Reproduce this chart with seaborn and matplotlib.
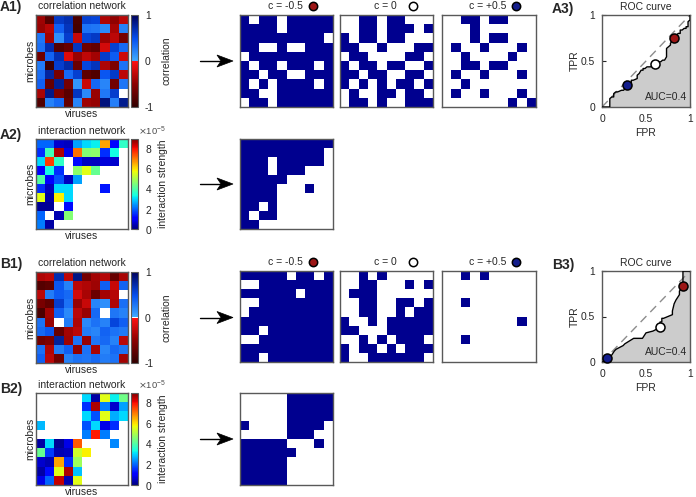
import numpy as np
import matplotlib
matplotlib.use("Agg")
import matplotlib.pyplot as plt
import seaborn as sns
from matplotlib.colors import LinearSegmentedColormap, ListedColormap
from matplotlib.ticker import ScalarFormatter
from matplotlib.patches import Polygon
from matplotlib.lines import Line2D

sns.set_style("white")
plt.rcParams["font.family"] = ["Liberation Sans", "DejaVu Sans"]
plt.rcParams["axes.unicode_minus"] = False

# ---------------- data ----------------
thresholds = [-0.5, 0.0, 0.5]
threshold_labels = ["c = -0.5", "c = 0", "c = +0.5"]
threshold_colors = ["#9c1616", "#ffffff", "#141e8c"]
auc_labels = ["AUC=0.4", "AUC=0.4"]
inter_scale = 1e-5
inter_vmax = 8.85

corr_A = [
    [-0.42, -0.78, 0.62, 0.70, -0.85, 0.58, 0.55, -0.35, -0.48, -0.30],
    [-0.45, -0.32, 0.40, 0.66, -0.88, 0.30, 0.28, 0.18, -0.38, 0.22],
    [0.28, -0.40, 0.15, 0.60, -0.25, 0.57, 0.63, -0.44, -0.30, -0.62],
    [0.32, 0.72, -0.80, -0.70, 0.64, -0.65, -0.72, -0.20, 0.58, 0.35],
    [-0.66, 0.38, 0.69, -0.15, -0.45, -0.28, -0.40, 0.61, 0.42, -0.22],
    [0.25, -0.92, 0.60, 0.73, -0.68, 0.55, 0.66, -0.36, -0.58, 0.30],
    [0.33, 0.76, -0.60, 0.35, 0.59, -0.75, -0.82, 0.45, 0.62, -0.30],
    [0.40, -0.70, 0.80, -0.62, 0.12, -0.25, 0.36, 0.20, -0.64, 0.28],
    [-0.38, 0.84, -0.58, -0.77, 0.65, 0.18, -0.45, 0.27, 0.60, 0.00],
    [-0.82, 0.22, 0.35, -0.71, 0.20, -0.42, -0.46, 0.88, 0.24, 0.82],
]
corr_B = [
    [-0.35, -0.30, 0.70, -0.28, 0.85, -0.62, -0.40, -0.33, -0.70, -0.38],
    [-0.80, -0.75, 0.45, 0.22, -0.30, -0.35, -0.42, 0.40, -0.25, 0.38],
    [-0.30, 0.25, 0.42, 0.35, -0.20, -0.38, -0.68, -0.40, -0.32, 0.00],
    [-0.60, -0.72, 0.60, 0.30, -0.45, -0.25, 0.20, 0.15, -0.35, 0.32],
    [-0.85, -0.40, 0.40, 0.18, -0.30, -0.45, 0.35, 0.00, 0.28, 0.22],
    [0.30, -0.45, 0.00, 0.25, -0.35, 0.18, 0.30, 0.22, 0.55, 0.40],
    [0.35, 0.45, -0.70, -0.40, -0.30, 0.25, 0.20, 0.38, 0.30, 0.26],
    [-0.65, -0.58, 0.78, -0.42, 0.30, -0.45, 0.28, 0.35, 0.22, -0.30],
    [0.32, -0.35, 0.25, 0.40, -0.48, 0.30, -0.38, 0.20, 0.35, 0.28],
    [0.40, -0.30, -0.65, 0.22, 0.30, 0.28, 0.35, 0.25, 0.30, -0.40],
]
# interaction strengths in units of 1e-5 (0 = no interaction)
inter_A = [
    [2.0, 2.0, 0.6, 0.5, 2.5, 3.0, 3.2, 6.5, 1.0, 3.6],
    [1.5, 3.8, 8.5, 0.8, 7.0, 4.5, 4.6, 1.5, 3.3, 0.0],
    [3.0, 7.5, 3.6, 0.0, 1.2, 0.5, 0.5, 0.7, 0.6, 0.0],
    [1.0, 3.3, 1.5, 0.0, 4.6, 5.5, 4.2, 0.0, 0.0, 0.0],
    [4.0, 1.0, 1.8, 0.5, 2.5, 0.0, 0.0, 0.0, 0.0, 0.0],
    [1.5, 0.5, 3.0, 3.0, 0.0, 0.0, 0.0, 1.3, 0.0, 0.0],
    [5.5, 0.3, 5.8, 3.0, 0.0, 0.0, 0.0, 0.0, 0.0, 0.0],
    [0.2, 0.2, 0.0, 1.2, 0.0, 0.0, 0.0, 0.0, 0.0, 0.0],
    [2.0, 0.0, 0.4, 4.5, 0.0, 0.0, 0.0, 0.0, 0.0, 0.0],
    [2.2, 0.3, 0.0, 0.0, 0.0, 0.0, 0.0, 0.0, 0.0, 0.0],
]
inter_B = [
    [0.0, 0.0, 0.0, 0.0, 0.0, 3.0, 0.3, 5.5, 3.2, 4.3],
    [0.0, 0.0, 0.0, 0.0, 0.0, 1.5, 8.5, 2.2, 0.6, 2.5],
    [0.0, 0.0, 0.0, 0.0, 0.0, 3.0, 1.8, 5.5, 2.6, 3.0],
    [2.7, 0.0, 0.0, 0.0, 0.0, 1.8, 3.0, 0.8, 1.5, 0.0],
    [0.0, 0.0, 0.0, 0.0, 0.0, 2.2, 7.8, 2.2, 0.0, 0.0],
    [0.3, 3.0, 0.2, 0.8, 7.2, 0.0, 0.0, 0.0, 2.3, 0.0],
    [4.2, 1.6, 0.4, 0.5, 5.3, 5.8, 0.0, 0.0, 0.0, 0.0],
    [0.6, 0.4, 6.5, 1.5, 4.8, 0.0, 0.0, 0.0, 0.0, 0.0],
    [0.3, 1.2, 5.5, 8.5, 2.8, 0.0, 0.0, 0.0, 0.0, 0.0],
    [0.8, 2.0, 8.3, 0.4, 5.5, 0.0, 0.0, 0.0, 0.0, 0.0],
]

# ---------------- styling ----------------
W, H = 696, 497
FS = 7.5
TICK_FS = 7.4
FRAME = "0.35"
corr_cmap = LinearSegmentedColormap.from_list("corr", [
    (0.0, "#300000"), (0.25, "#8c0000"), (0.496, "#ff1010"),
    (0.497, "#ffffff"), (0.503, "#ffffff"),
    (0.504, "#40aaff"), (0.74, "#0650f0"), (1.0, "#00005a")], N=1024)
bin_cmap = ListedColormap(["#ffffff", "#00008f"])

fig = plt.figure(figsize=(W / 100, H / 100), dpi=100)


def add_ax(box):
    x0, y0, x1, y1 = box
    return fig.add_axes([x0 / W, 1 - y1 / H, (x1 - x0) / W, (y1 - y0) / H])


def ftext(x, y, s, **kw):
    kw.setdefault("ha", "center")
    kw.setdefault("va", "center")
    kw.setdefault("fontsize", FS)
    fig.text(x / W, 1 - y / H, s, **kw)


def frame(ax):
    for sp in ax.spines.values():
        sp.set_visible(True)
        sp.set_color(FRAME)
        sp.set_linewidth(1.0)


def arrow(y):
    x0, x1 = 200, 233
    fig.add_artist(Line2D([x0 / W, (x1 - 8) / W], [1 - y / H, 1 - y / H],
                          transform=fig.transFigure, color="black", lw=1.0))
    pts = [(x1, y), (x1 - 16, y - 6), (x1 - 12, y), (x1 - 16, y + 6)]
    fig.add_artist(Polygon([(px / W, 1 - py / H) for px, py in pts], closed=True,
                           transform=fig.transFigure, facecolor="black",
                           edgecolor="black", lw=0.5))


def roc_curve(scores, labels):
    order = np.argsort(-scores, kind="mergesort")
    s, l = scores[order], labels[order]
    tp = np.cumsum(l)
    fp = np.cumsum(~l)
    idx = np.r_[np.where(np.diff(s) != 0)[0], len(s) - 1]
    tpr = np.r_[0.0, tp[idx] / l.sum()]
    fpr = np.r_[0.0, fp[idx] / (~l).sum()]
    return fpr, tpr


layouts = [
    dict(tag="A", corr=(36, 15, 128, 107), ccb=(131, 15, 138, 107),
         inter=(36, 139, 128, 229), icb=(131, 139, 138, 229),
         bins=[(240, 15, 333, 107), (340, 15, 433, 107), (442, 15, 536, 107)],
         ibin=(240, 139, 333, 229), roc=(602, 15, 690, 107),
         corr_data=corr_A, inter_data=inter_A, auc=auc_labels[0]),
    dict(tag="B", corr=(36, 272, 128, 363), ccb=(131, 272, 138, 363),
         inter=(36, 393, 128, 485), icb=(131, 393, 138, 485),
         bins=[(240, 271, 333, 362), (340, 271, 433, 362), (442, 271, 536, 362)],
         ibin=(240, 393, 333, 485), roc=(602, 271, 690, 362),
         corr_data=corr_B, inter_data=inter_B, auc=auc_labels[1]),
]

for L in layouts:
    corr = np.array(L["corr_data"], dtype=float)
    inter = np.array(L["inter_data"], dtype=float)
    tag = L["tag"]

    # ---- correlation network heatmap ----
    ax = add_ax(L["corr"])
    cax = add_ax(L["ccb"])
    sns.heatmap(corr, ax=ax, cmap=corr_cmap, vmin=-1, vmax=1, cbar_ax=cax,
                xticklabels=False, yticklabels=False)
    frame(ax)
    cb = ax.collections[0].colorbar
    cb.set_ticks([-1, 0, 1])
    cb.set_ticklabels(["-1", "0", "1"])
    cb.outline.set_linewidth(0.8)
    cb.outline.set_edgecolor(FRAME)
    cax.tick_params(labelsize=TICK_FS, length=0, pad=5, colors="0.15")
    x0, y0, x1, y1 = L["corr"]
    ftext((x0 + x1) / 2, y0 - 9, "correlation network")
    ftext(30, (y0 + y1) / 2, "microbes", rotation=90)
    ftext((x0 + x1) / 2, y1 + 7, "viruses")
    ftext(166, (y0 + y1) / 2, "correlation", rotation=90)
    ftext(0, y0 - 8, tag + "1)", ha="left", fontsize=10, fontweight="bold")

    # ---- interaction network heatmap ----
    ax = add_ax(L["inter"])
    cax = add_ax(L["icb"])
    shown = np.where(inter > 0, inter * inter_scale, np.nan)
    sns.heatmap(shown, ax=ax, cmap="jet", vmin=0, vmax=inter_vmax * inter_scale,
                cbar_ax=cax, xticklabels=False, yticklabels=False)
    frame(ax)
    cb = ax.collections[0].colorbar
    cb.set_ticks([t * inter_scale for t in [0, 2, 4, 6, 8]])
    fmt = ScalarFormatter(useMathText=True)
    fmt.set_powerlimits((0, 0))
    cb.formatter = fmt
    cb.update_ticks()
    cb.outline.set_linewidth(0.8)
    cb.outline.set_edgecolor(FRAME)
    cax.tick_params(labelsize=TICK_FS, length=2, direction="in", pad=5, colors="0.15")
    cax.yaxis.set_offset_position("right")
    off = cax.yaxis.get_offset_text()
    off.set_ha("left")
    off.set_x(1.0)
    off.set_fontsize(6.8)
    off.set_color("0.3")
    x0, y0, x1, y1 = L["inter"]
    ftext((x0 + x1) / 2, y0 - 7.5, "interaction network")
    ftext(30, (y0 + y1) / 2, "microbes", rotation=90)
    ftext((x0 + x1) / 2, y1 + 7, "viruses")
    ftext(163, (y0 + y1) / 2, "interaction strength", rotation=90)
    ftext(0, y0 - 4, tag + "2)", ha="left", fontsize=10, fontweight="bold")

    # ---- thresholded correlation networks ----
    for box, c, lab, col in zip(L["bins"], thresholds, threshold_labels, threshold_colors):
        ax = add_ax(box)
        sns.heatmap((corr > c).astype(int), ax=ax, cmap=bin_cmap, vmin=0, vmax=1,
                    cbar=False, xticklabels=False, yticklabels=False)
        frame(ax)
        ax.text(0.49, 1.1, lab, transform=ax.transAxes, ha="center", va="center", fontsize=FS)
        ax.plot([0.79], [1.1], "o", transform=ax.transAxes, clip_on=False,
                mfc=col, mec="black", ms=6, mew=1.1)
    arrow((L["corr"][1] + L["corr"][3]) / 2)

    # ---- interaction network as binary ----
    ax = add_ax(L["ibin"])
    sns.heatmap((inter > 0).astype(int), ax=ax, cmap=bin_cmap, vmin=0, vmax=1,
                cbar=False, xticklabels=False, yticklabels=False)
    frame(ax)
    arrow((L["inter"][1] + L["inter"][3]) / 2)

    # ---- ROC curve ----
    scores = corr.ravel()
    labels = (inter > 0).ravel()
    fpr, tpr = roc_curve(scores, labels)
    ax = add_ax(L["roc"])
    ax.fill_between(fpr, tpr, 0, color="0.8", lw=0, zorder=1)
    ax.plot([0, 1], [0, 1], ls=(0, (6, 4)), color="0.55", lw=1, zorder=2)
    sns.lineplot(x=fpr, y=tpr, ax=ax, color="black", lw=1, sort=False,
                 estimator=None, zorder=3)
    for c, col in zip(thresholds, threshold_colors):
        tp_c = np.mean(scores[labels] > c)
        fp_c = np.mean(scores[~labels] > c)
        ax.plot([fp_c], [tp_c], "o", mfc=col, mec="black", ms=6.5, mew=1.1,
                zorder=4, clip_on=False)
    ax.set_xlim(0, 1)
    ax.set_ylim(0, 1)
    ax.set_xticks([0, 0.5, 1])
    ax.set_xticklabels(["0", "0.5", "1"])
    ax.set_yticks([0, 0.5, 1])
    ax.set_yticklabels(["0", "0.5", "1"])
    ax.tick_params(labelsize=TICK_FS, direction="in", length=3, width=0.8,
                   colors="0.15", pad=5, left=True, bottom=True)
    frame(ax)
    ax.set_facecolor("white")
    ax.text(0.97, 0.05, L["auc"], transform=ax.transAxes, ha="right", va="bottom",
            fontsize=FS, zorder=5)
    x0, y0, x1, y1 = L["roc"]
    ftext((x0 + x1) / 2, y0 - 8, "ROC curve")
    ftext((x0 + x1) / 2, y1 + 26, "FPR")
    ftext(575, (y0 + y1) / 2, "TPR", rotation=90)
    ftext(552, y0 - 6, tag + "3)", ha="left", fontsize=10, fontweight="bold")

fig.savefig("out.png", dpi=100)
